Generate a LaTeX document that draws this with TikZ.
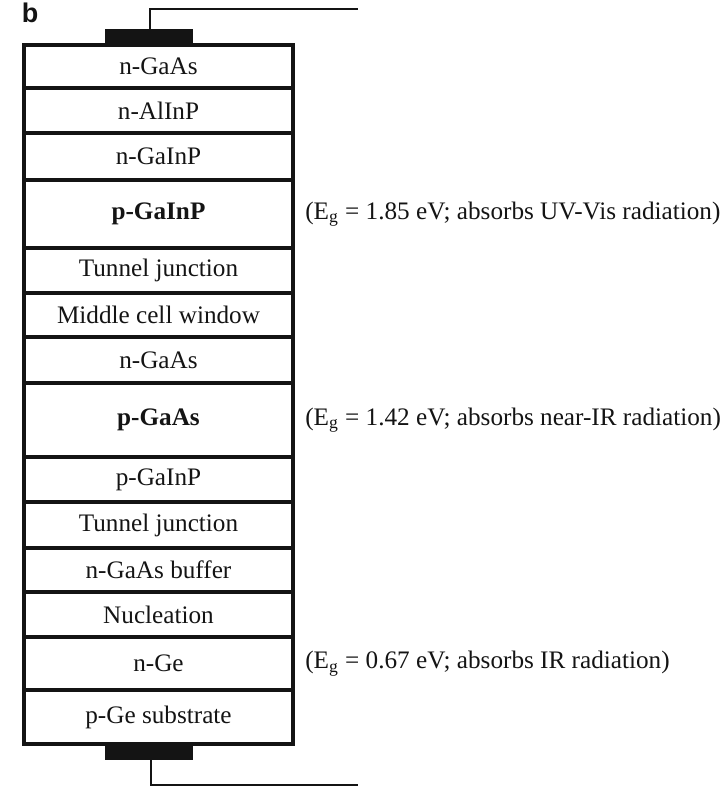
\documentclass[tikz,border=0pt]{standalone}
\usepackage{fontspec}
\setmainfont{Liberation Serif}
\setsansfont{Liberation Sans}
\usepackage{xcolor}
\usepackage{tikz}
\usetikzlibrary{positioning}
\definecolor{Ink}{HTML}{141414}

\begin{document}
\begin{tikzpicture}[x=0.5pt,y=-0.5pt,
  layer/.style={draw=Ink,line width=1.9pt,minimum width=134.5pt,minimum height=#1,
    inner sep=0pt,text=Ink,font=\fontsize{12.6}{14}\selectfont},
  contact/.style={fill=Ink,draw=none,minimum width=44pt,minimum height=8pt,inner sep=0pt},
  eglabel/.style={inner sep=0pt,anchor=west,text=Ink,font=\fontsize{12.6}{14}\selectfont},
  wire/.style={draw=Ink,line width=0.6pt}]
  \useasboundingbox (0,0) rectangle (725,788);
  \node[text=Ink,font=\sffamily\bfseries\fontsize{13.5}{15}\selectfont] (panel) at (30,13) {b};
  % top cell
  \node[layer=21.5pt] (ngaastop) at (158.5,66.5) {n-GaAs};
  \node[layer=22.5pt] (nalinp) at (158.5,110.5) {n-AlInP};
  \node[layer=23.5pt] (ngainp) at (158.5,156.5) {n-GaInP};
  \node[layer=34pt] (pgainp) at (158.5,214) {\bfseries p-GaInP};
  \node[layer=22.5pt] (tjtop) at (158.5,270.5) {Tunnel junction};
  % middle cell
  \node[layer=22pt] (window) at (158.5,315) {Middle cell window};
  \node[layer=23pt] (ngaasmid) at (158.5,360) {n-GaAs};
  \node[layer=37pt] (pgaas) at (158.5,420) {\bfseries p-GaAs};
  \node[layer=22.5pt] (pgainpbsf) at (158.5,479.5) {p-GaInP};
  \node[layer=23pt] (tjbot) at (158.5,525) {Tunnel junction};
  % bottom cell
  \node[layer=22pt] (buffer) at (158.5,570) {n-GaAs buffer};
  \node[layer=22.5pt] (nucl) at (158.5,614.5) {Nucleation};
  \node[layer=26.5pt] (nge) at (158.5,663.5) {n-Ge};
  \node[layer=27pt] (pge) at (158.5,717) {p-Ge substrate};
  % band gaps
  \node[eglabel,right=5pt of pgainp] (egtop) {(E\textsubscript{g} = 1.85 eV; absorbs UV-Vis radiation)};
  \node[eglabel,right=5pt of pgaas] (egmid) {(E\textsubscript{g} = 1.42 eV; absorbs near-IR radiation)};
  \node[eglabel,right=5pt of nge] (egbot) {(E\textsubscript{g} = 0.67 eV; absorbs IR radiation)};
  % contacts and leads
  \node[contact] (topcontact) at (149,37) {};
  \node[contact] (botcontact) at (149,752) {};
  \coordinate (topwire) at (358,9);
  \coordinate (botwire) at (358,785);
  \draw[wire] ([xshift=0.5pt]topcontact.north) |- (topwire);
  \draw[wire] ([xshift=1pt]botcontact.south) |- (botwire);
\end{tikzpicture}
\end{document}
